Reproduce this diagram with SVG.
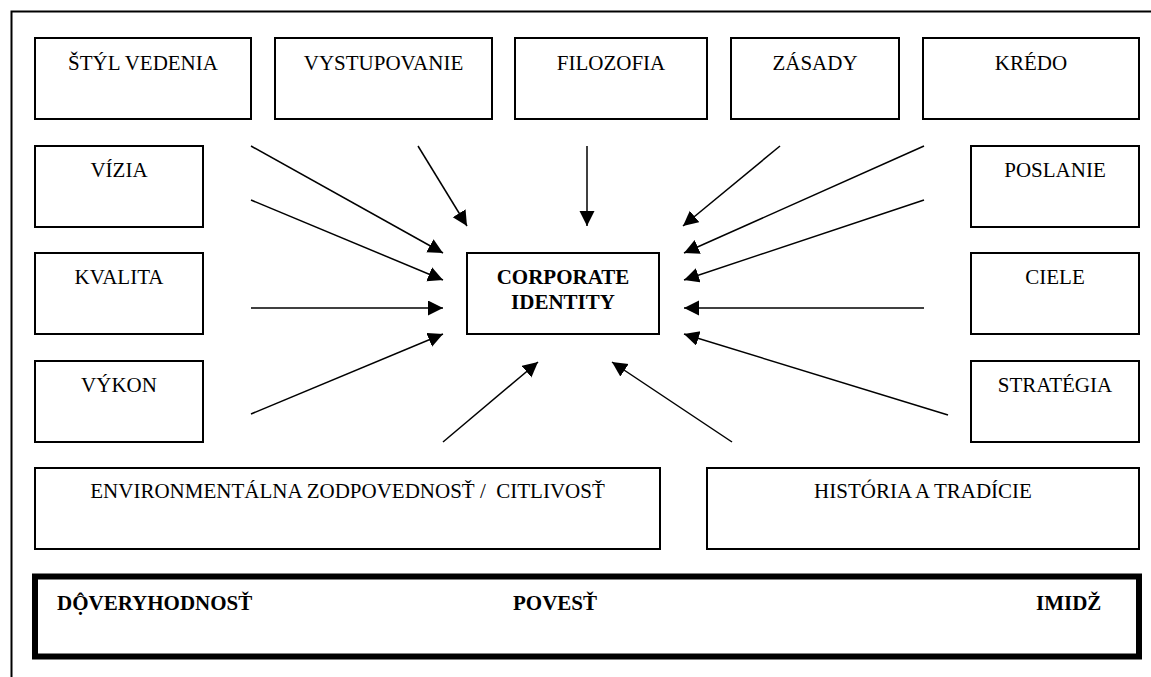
<svg xmlns="http://www.w3.org/2000/svg" width="1151" height="677" viewBox="0 0 1151 677">
<style>
.box{fill:#fff;stroke:#000;stroke-width:2}
.t{font-size:21px;fill:#000;text-anchor:middle}
.b{font-weight:bold}
.s{text-anchor:start}
.c line{stroke:#000;stroke-width:1.5;marker-end:url(#ah)}
</style>
<defs>
<marker id="ah" markerUnits="userSpaceOnUse" markerWidth="16" markerHeight="16" viewBox="0 0 16 16" refX="15" refY="7.5" orient="auto">
<path d="M0,0 L15,7.5 L0,15 z" fill="#000"/>
</marker>
</defs>
<rect width="1151" height="677" fill="#fff"/>
<path d="M11.5,677 V11.5 H1151" fill="none" stroke="#000" stroke-width="2"/>
<g font-family="'Liberation Serif', Tinos, 'Times New Roman', 'DejaVu Serif', serif">
<g id="styl"><rect class="box" x="35" y="38" width="216" height="81"/><text class="t" x="143" y="70">ŠTÝL VEDENIA</text></g>
<g id="vystupovanie"><rect class="box" x="275" y="38" width="217" height="81"/><text class="t" x="383.5" y="70">VYSTUPOVANIE</text></g>
<g id="filozofia"><rect class="box" x="515" y="38" width="192" height="81"/><text class="t" x="611" y="70">FILOZOFIA</text></g>
<g id="zasady"><rect class="box" x="731" y="38" width="168" height="81"/><text class="t" x="815" y="70">ZÁSADY</text></g>
<g id="kredo"><rect class="box" x="923" y="38" width="216" height="81"/><text class="t" x="1031" y="70">KRÉDO</text></g>
<g id="vizia"><rect class="box" x="35" y="146" width="168" height="81"/><text class="t" x="119" y="177">VÍZIA</text></g>
<g id="kvalita"><rect class="box" x="35" y="253" width="168" height="81"/><text class="t" x="119" y="284">KVALITA</text></g>
<g id="vykon"><rect class="box" x="35" y="361" width="168" height="81"/><text class="t" x="119" y="392">VÝKON</text></g>
<g id="poslanie"><rect class="box" x="971" y="146" width="168" height="81"/><text class="t" x="1055" y="177">POSLANIE</text></g>
<g id="ciele"><rect class="box" x="971" y="253" width="168" height="81"/><text class="t" x="1055" y="284">CIELE</text></g>
<g id="strategia"><rect class="box" x="971" y="361" width="168" height="81"/><text class="t" x="1055" y="392">STRATÉGIA</text></g>
<g id="ci"><rect class="box" x="467" y="253" width="192" height="81"/><text class="t b" x="563" y="284">CORPORATE</text><text class="t b" x="563" y="309">IDENTITY</text></g>
<g id="env"><rect class="box" x="35" y="468" width="625" height="81"/><text class="t" x="347.5" y="498" xml:space="preserve">ENVIRONMENTÁLNA ZODPOVEDNOSŤ /  CITLIVOSŤ</text></g>
<g id="historia"><rect class="box" x="707" y="468" width="432" height="81"/><text class="t" x="923" y="498">HISTÓRIA A TRADÍCIE</text></g>
<g id="zaklad"><rect x="35" y="576.5" width="1104" height="80" fill="#fff" stroke="#000" stroke-width="6"/>
<text class="t b s" x="57" y="610">DỘVERYHODNOSŤ</text>
<text class="t b s" x="513" y="610">POVESŤ</text>
<text class="t b s" x="1036" y="610">IMIDŽ</text></g>
</g>
<g id="connectors" class="c">
<line x1="251" y1="146" x2="443" y2="253"/>
<line x1="251" y1="200" x2="443" y2="280"/>
<line x1="251" y1="308" x2="443" y2="308"/>
<line x1="251" y1="414" x2="443" y2="334"/>
<line x1="418" y1="146" x2="467" y2="226"/>
<line x1="587" y1="146" x2="587" y2="226"/>
<line x1="780" y1="146" x2="683" y2="226"/>
<line x1="924" y1="146" x2="684" y2="253"/>
<line x1="924" y1="200" x2="684" y2="280"/>
<line x1="924" y1="308" x2="684" y2="308"/>
<line x1="948" y1="415" x2="684" y2="334"/>
<line x1="443" y1="442" x2="538" y2="362"/>
<line x1="732" y1="442" x2="612" y2="362"/>
</g>
</svg>
